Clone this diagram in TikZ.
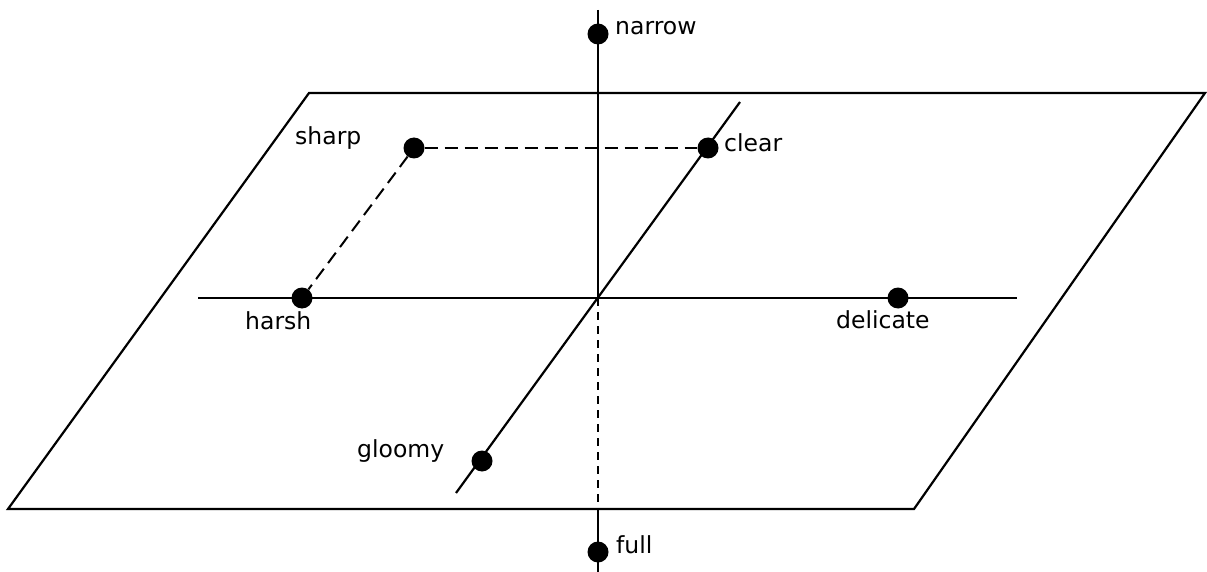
\documentclass[tikz,border=0pt]{standalone}
\usepackage{fontspec}
\setmainfont{DejaVu Sans}
\begin{document}
\begin{tikzpicture}[x=1pt,y=-1pt,
  ln/.style={line width=2.2pt},
  dsh/.style={line width=2pt,dash pattern=on 13pt off 7pt},
  vdsh/.style={line width=2pt,dash pattern=on 8pt off 6pt},
  dot/.style={circle,fill=black,inner sep=0pt,minimum size=21pt},
  lbl/.style={anchor=base west,inner sep=0pt,font=\fontsize{23.5}{28}\selectfont}]
\useasboundingbox (0,0) rectangle (1207,572);
% plane
\coordinate (p1) at (309,93);
\coordinate (p2) at (1205,93);
\coordinate (p3) at (914,509);
\coordinate (p4) at (8,509);
\draw[ln,line join=miter] (p1) -- (p2) -- (p3) -- (p4) -- cycle;
% axes
\coordinate (o) at (598,298);
\coordinate (vt) at (598,10);
\coordinate (vb) at (598,572);
\coordinate (vp) at (598,509);
\coordinate (hl) at (198,298);
\coordinate (hr) at (1017,298);
\coordinate (dl) at (456,493);
\coordinate (du) at (740,102);
\draw[ln] (vt) -- (o);
\draw[vdsh] (o) -- (vp);
\draw[ln] (vp) -- (vb);
\draw[ln] (hl) -- (hr);
\draw[ln] (dl) -- (du);
% dots
\node[dot] (narrow) at (598,34) {};
\node[dot] (sharp) at (414,148) {};
\node[dot] (clear) at (708,148) {};
\node[dot] (harsh) at (302,298) {};
\node[dot] (delicate) at (898,298) {};
\node[dot] (gloomy) at (482,461) {};
\node[dot] (full) at (598,552) {};
% dashed
\draw[dsh] (sharp) -- (clear);
\draw[dsh] (sharp) -- (harsh);
% labels
\node[lbl] (tn) at (615,35) {narrow};
\node[lbl] (ts) at (295,145) {sharp};
\node[lbl] (tc) at (724,152) {clear};
\node[lbl] (th) at (245,329) {harsh};
\node[lbl] (td) at (836,328) {delicate};
\node[lbl] (tg) at (357,457) {gloomy};
\node[lbl] (tf) at (616,553) {full};
\end{tikzpicture}
\end{document}
